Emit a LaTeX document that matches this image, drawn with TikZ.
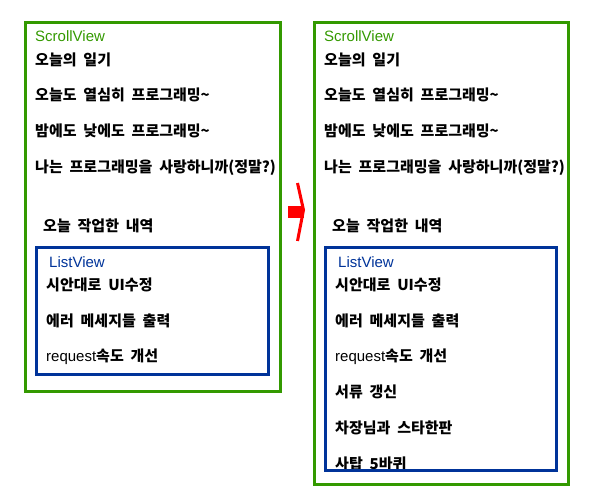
\documentclass[tikz,border=0pt]{standalone}
\usepackage{fontspec}
\setmainfont{Liberation Sans}
\newfontfamily\kr{Noto Sans CJK KR}[WordSpace=2]
\newcommand\lat[1]{{\normalfont\fontsize{15}{18}\selectfont #1}}
\definecolor{svgreen}{RGB}{51,153,0}
\definecolor{lvblue}{RGB}{0,51,153}

\begin{document}
\begin{tikzpicture}[x=1pt,y=-1pt,
  scrollbox/.style={draw=svgreen,line width=3pt},
  listbox/.style={draw=lvblue,line width=3pt},
  viewname/.style={anchor=base west,inner sep=0pt,font=\fontsize{15}{18}\selectfont},
  entry/.style={anchor=base west,inner sep=0pt,font=\fontsize{15}{18}\kr\bfseries}]
\useasboundingbox (0,0) rectangle (600,500);
% before
\draw[scrollbox] (25,22.3) rectangle (280,391);
\node[viewname,text=svgreen] (sv1) at (35,42) {ScrollView};
\node[entry] (a1) at (35,66) {오늘의 일기};
\node[entry] (a2) at (35,101) {오늘도 열심히 프로그래밍\textasciitilde};
\node[entry] (a3) at (35,137) {밤에도 낮에도 프로그래밍\textasciitilde};
\node[entry] (a4) at (35,173) {나는 프로그래밍을 사랑하니까(정말?)};
\node[entry] (h1) at (43,231) {오늘 작업한 내역};
\draw[listbox] (36.7,247.5) rectangle (268.3,374.3);
\node[viewname,text=lvblue] (lv1) at (49,267) {ListView};
\node[entry] (b1) at (46,290) {시안대로 UI수정};
\node[entry] (b2) at (46,326) {에러 메세지들 출력};
\node[entry] (b3) at (46,361) {\lat{request}속도 개선};
% arrow
\fill[red] (288,206) rectangle (304,218);
\draw[red,line width=3pt] (297.5,183) -- (303.5,210) -- (297.5,241);
% after
\draw[scrollbox] (314.3,22.3) rectangle (568.7,484.3);
\node[viewname,text=svgreen] (sv2) at (324,42) {ScrollView};
\node[entry] (c1) at (324,66) {오늘의 일기};
\node[entry] (c2) at (324,101) {오늘도 열심히 프로그래밍\textasciitilde};
\node[entry] (c3) at (324,137) {밤에도 낮에도 프로그래밍\textasciitilde};
\node[entry] (c4) at (324,173) {나는 프로그래밍을 사랑하니까(정말?)};
\node[entry] (h2) at (332,231) {오늘 작업한 내역};
\begin{scope}
\clip (325.7,247.7) rectangle (556.7,470);
\node[viewname,text=lvblue] (lv2) at (338,267) {ListView};
\node[entry] (e1) at (335,290) {시안대로 UI수정};
\node[entry] (e2) at (335,326) {에러 메세지들 출력};
\node[entry] (e3) at (335,361) {\lat{request}속도 개선};
\node[entry] (e4) at (335,397) {서류 갱신};
\node[entry] (e5) at (335,433) {차장님과 스타한판};
\node[entry] (e6) at (335,469) {사탑 5바퀴};
\end{scope}
\draw[listbox] (325.7,247.7) rectangle (556.7,470);
\end{tikzpicture}
\end{document}
